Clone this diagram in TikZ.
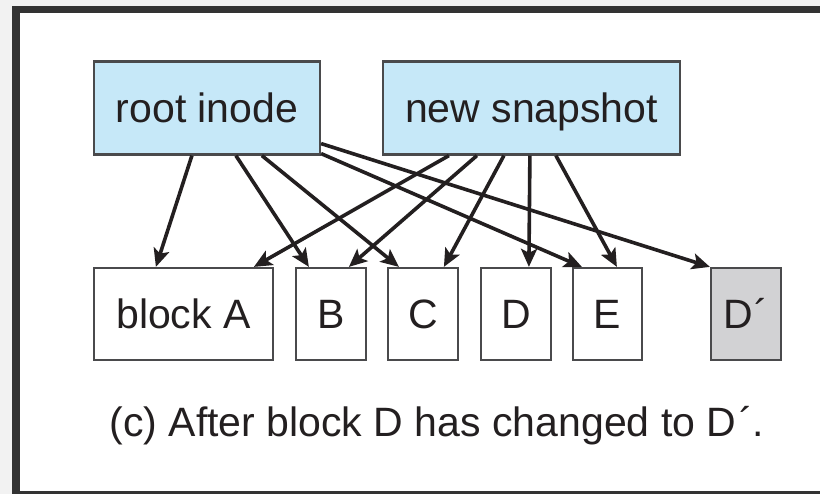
\documentclass[tikz,border=0pt]{standalone}
\usepackage{fontspec}
\setmainfont{Liberation Sans}
\usetikzlibrary{arrows.meta}
\definecolor{inodeblue}{HTML}{C6E8F8}
\definecolor{newblock}{HTML}{D2D2D4}
\definecolor{boxline}{HTML}{4A4A4C}
\definecolor{ink}{HTML}{231F20}
\definecolor{framegray}{HTML}{333333}
\definecolor{pagegray}{HTML}{F2F2F2}
\tikzset{
  box/.style={draw=boxline, line width=2.2pt, inner sep=0pt,
    minimum height=92pt, text height=30pt, text depth=0pt,
    font=\fontsize{41}{49}\selectfont, text=ink},
  meta/.style={box, fill=inodeblue, minimum height=93pt},
  blk/.style={box, fill=white, minimum width=70pt},
  ptr/.style={draw=ink, line width=3.6pt,
    -{Stealth[length=18pt, width=16pt, inset=4pt]}}
}
\begin{document}
\begin{tikzpicture}[x=1pt, y=-1pt]
  % page and frame
  \fill[pagegray] (0,0) rectangle (820,494);
  \useasboundingbox (0,0) rectangle (820,494);
  \fill[framegray] (12,6) rectangle (820,494);
  \fill[white] (20,13) rectangle (820,491);

  % metadata blocks
  \node[meta, minimum width=226pt] (root) at (207,108) {root inode};
  \node[meta, minimum width=297pt] (snap) at (531.5,108) {new snapshot};

  % data blocks
  \node[blk, minimum width=179pt] (A) at (183.5,314) {block A};
  \node[blk] (B) at (331,314) {B};
  \node[blk] (C) at (423,314) {C};
  \node[blk] (D) at (516,314) {D};
  \node[blk, minimum width=69pt] (E) at (607.5,314) {E};
  \node[blk, fill=newblock] (Dn) at (746,314) {D\kern2pt´};

  % pointers from the live root inode
  \draw[ptr] ([xshift=99pt]root.south west) -- ([xshift=63pt]A.north west);
  \draw[ptr] ([xshift=143pt]root.south west) -- ([xshift=14pt]B.north west);
  \draw[ptr] ([xshift=169pt]root.south west) -- ([xshift=12pt]C.north west);
  \draw[ptr] ([yshift=2pt]root.south east) -- ([xshift=10pt]E.north west);
  \draw[ptr] ([yshift=12pt]root.south east) -- (Dn.north west);

  % pointers from the snapshot
  \draw[ptr] ([xshift=67pt]snap.south west) -- ([xshift=161pt]A.north west);
  \draw[ptr] ([xshift=95pt]snap.south west) -- ([xshift=54pt]B.north west);
  \draw[ptr] ([xshift=122pt]snap.south west) -- ([xshift=57pt]C.north west);
  \draw[ptr] ([xshift=148pt]snap.south west) -- ([xshift=49pt]D.north west);
  \draw[ptr] ([xshift=174pt]snap.south west) -- ([xshift=45pt]E.north west);

  % caption
  \node[font=\fontsize{41}{49}\selectfont, text=ink, anchor=base] (cap) at (437,437)
    {(c) After block D has changed to D\kern3pt´.};
\end{tikzpicture}
\end{document}
